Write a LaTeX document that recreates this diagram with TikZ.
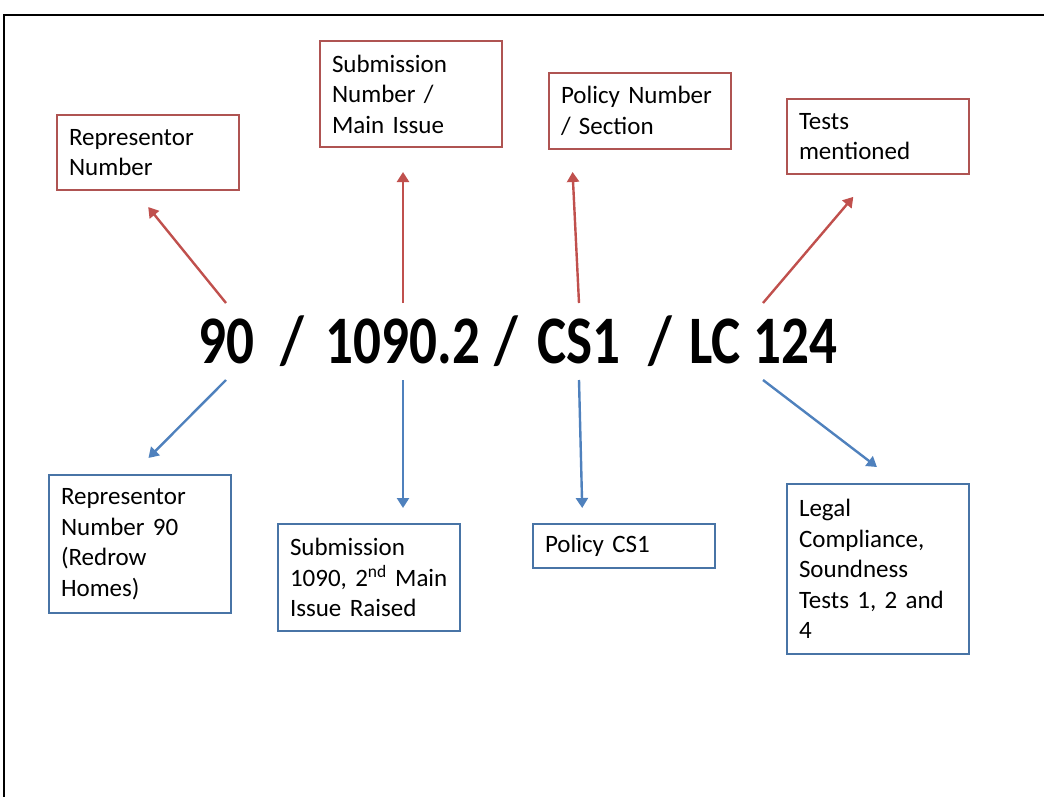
\documentclass[tikz,border=0pt]{standalone}
\usepackage{fontspec}
\setmainfont{Carlito}
\newfontfamily\reffont{Carlito}[FakeStretch=0.81]
\usetikzlibrary{arrows.meta}

\definecolor{boxred}{RGB}{175,84,82}
\definecolor{arrred}{RGB}{192,80,77}
\definecolor{boxblue}{RGB}{72,116,166}
\definecolor{arrblue}{RGB}{79,129,189}

\newcommand\boxtextfont{\fontsize{25}{30.5}\selectfont}
\newcommand\reftextfont{\reffont\fontsize{68}{72}\selectfont\bfseries}

\tikzset{
  infobox/.style={draw, rectangle, line width=2.4pt, anchor=north west, outer sep=0pt,
    align=left, text width=158pt, inner xsep=12pt, inner ysep=0pt, font=\boxtextfont},
  redbox/.style={infobox, draw=boxred},
  bluebox/.style={infobox, draw=boxblue},
  refpart/.style={anchor=base, inner sep=0pt, outer ysep=17pt, text height=43pt,
    text depth=0pt, font=\reftextfont},
  redarrow/.style={draw=arrred, line width=2.4pt, -{Triangle[width=12pt,length=10pt]}},
  bluearrow/.style={draw=arrblue, line width=2.4pt, -{Triangle[width=12pt,length=10pt]}}
}

\begin{document}
\begin{tikzpicture}[x=1pt,y=-1pt]
\useasboundingbox (0,0) rectangle (1044,797);

% frame
\draw[line width=2.4pt] (4,797) -- (4,15) -- (1044,15);

% reference
\node[refpart] (n90) at (226,363) {90};
\node[refpart] (sl1) at (292,363) {/};
\node[refpart] (n1090) at (403,363) {1090.2};
\node[refpart] (sl2) at (506,363) {/};
\node[refpart] (ncs) at (579,363) {CS1};
\node[refpart] (sl3) at (660,363) {/};
\node[refpart] (nlc) at (763,363) {LC 124};

% what the parts stand for
\node[redbox, minimum height=75pt] (rep) at (57,115) {Representor\\Number};
\node[redbox, minimum height=106pt] (sub) at (320,41) {Submission\\Number /\\Main Issue};
\node[redbox, minimum height=76pt] (pol) at (549,73) {Policy Number\\/ Section};
\node[redbox, minimum height=75pt] (tests) at (787,99) {Tests\\mentioned};

% this example
\node[bluebox, minimum height=138pt] (rep90) at (49,475) {Representor\\Number 90\\(Redrow\\Homes)};
\node[bluebox, minimum height=107pt] (sub1090) at (278,524) {Submission\\1090, 2\textsuperscript{nd} Main\\Issue Raised};
\node[bluebox, minimum height=44pt] (pcs1) at (533,524) {Policy CS1};
\node[bluebox, minimum height=170pt] (legal) at (787,484) {Legal\\Compliance,\\Soundness\\Tests 1, 2 and\\4};

\draw[redarrow, shorten >=22pt] (n90.north) -- (rep.250);
\draw[redarrow, shorten >=25pt] (n1090.north) -- (n1090.north |- sub.south);
\draw[redarrow, shorten >=23pt] (ncs.north) -- (pol.209);
\draw[redarrow, shorten >=30pt] (nlc.north) -- (tests.262);

\draw[bluearrow, shorten >=24pt] (n90.south) -- (rep90.97);
\draw[bluearrow, shorten >=16pt] (n1090.south) -- (n1090.south |- sub1090.north);
\draw[bluearrow, shorten >=16pt] (ncs.south) -- (pcs1.152);
\draw[bluearrow, shorten >=28pt] (nlc.south) -- (legal.76);

\end{tikzpicture}
\end{document}
